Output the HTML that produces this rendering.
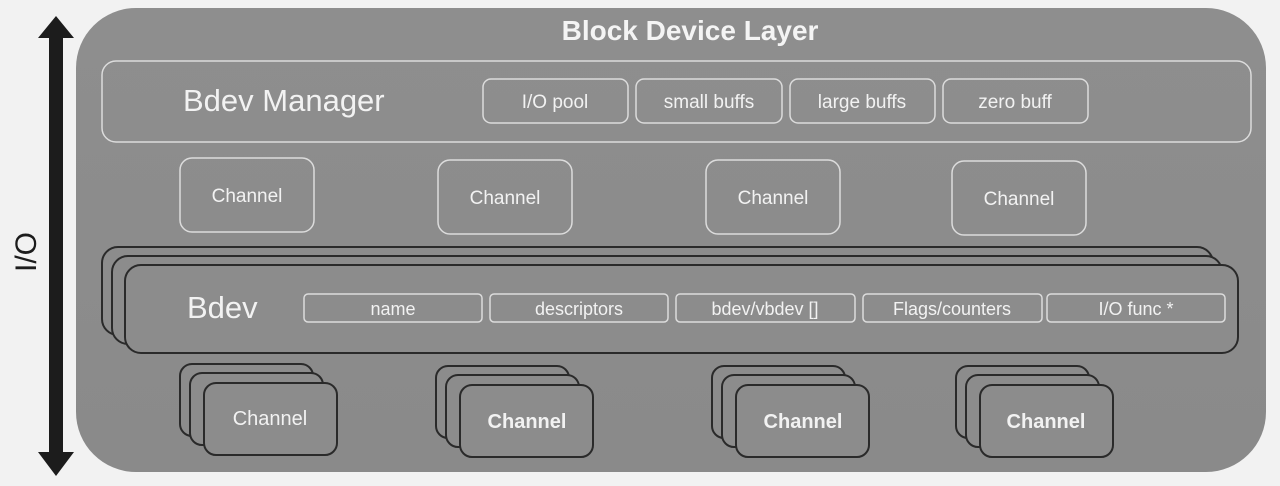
<!DOCTYPE html>
<html><head><style>
body{margin:0;width:1280px;height:481px;background:#f2f2f2;overflow:hidden;font-family:"Liberation Sans",sans-serif;}
</style></head><body>
<svg width="1280" height="481" xmlns="http://www.w3.org/2000/svg" font-family="Liberation Sans, sans-serif">
<defs>
<linearGradient id="g" x1="0" y1="0" x2="0" y2="1"><stop offset="0" stop-color="#8e8e8e"/><stop offset="1" stop-color="#8a8a8a"/></linearGradient>
</defs>
<rect x="76" y="8" width="1190" height="464" rx="60" fill="url(#g)"/>
<!-- arrow -->
<rect x="49" y="34" width="14" height="418" fill="#1c1c1c"/>
<polygon points="56,16 38,38 74,38" fill="#1c1c1c"/>
<polygon points="56,476 38,452 74,452" fill="#1c1c1c"/>
<text transform="translate(36,252) rotate(-90)" font-size="30" fill="#1c1c1c" text-anchor="middle">I/O</text>
<text x="690" y="40" font-size="28" font-weight="bold" fill="#f4f4f4" text-anchor="middle">Block Device Layer</text>
<g fill="none" stroke="#dcdcdc" stroke-width="1.5">
<rect x="102" y="61" width="1149" height="81" rx="14"/>
<rect x="483" y="79" width="145" height="44" rx="8"/>
<rect x="636" y="79" width="146" height="44" rx="8"/>
<rect x="790" y="79" width="145" height="44" rx="8"/>
<rect x="943" y="79" width="145" height="44" rx="8"/>
<rect x="180" y="158" width="134" height="74" rx="12"/>
<rect x="438" y="160" width="134" height="74" rx="12"/>
<rect x="706" y="160" width="134" height="74" rx="12"/>
<rect x="952" y="161" width="134" height="74" rx="12"/>
</g>
<g fill="#f2f2f2" font-size="19" text-anchor="middle">
<text x="555" y="108">I/O pool</text><text x="709" y="108">small buffs</text>
<text x="862" y="108">large buffs</text><text x="1015" y="108">zero buff</text>
<text x="247" y="202">Channel</text><text x="505" y="204">Channel</text>
<text x="773" y="204">Channel</text><text x="1019" y="205">Channel</text>
</g>
<text x="183" y="111" font-size="31" fill="#f2f2f2">Bdev Manager</text>
<!-- bdev stack -->
<g fill="#8c8c8c" stroke="#2a2a2a" stroke-width="2">
<rect x="102" y="247" width="1111" height="88" rx="16"/>
<rect x="112" y="256" width="1110" height="88" rx="16"/>
<rect x="125" y="265" width="1113" height="88" rx="16"/>
</g>
<text x="187" y="318" font-size="31" fill="#f2f2f2">Bdev</text>
<g fill="none" stroke="#dcdcdc" stroke-width="1.5">
<rect x="304" y="294" width="178" height="28" rx="4"/>
<rect x="490" y="294" width="178" height="28" rx="4"/>
<rect x="676" y="294" width="179" height="28" rx="4"/>
<rect x="863" y="294" width="179" height="28" rx="4"/>
<rect x="1047" y="294" width="178" height="28" rx="4"/>
</g>
<g fill="#f2f2f2" font-size="18" text-anchor="middle">
<text x="393" y="315">name</text><text x="579" y="315">descriptors</text>
<text x="765" y="315">bdev/vbdev []</text><text x="952" y="315">Flags/counters</text>
<text x="1136" y="315">I/O func *</text>
</g>
<!-- bottom channel stacks -->
<g fill="#8c8c8c" stroke="#2a2a2a" stroke-width="2">
<rect x="180" y="364" width="133" height="72" rx="12"/><rect x="190" y="373" width="133" height="72" rx="12"/><rect x="204" y="383" width="133" height="72" rx="12"/>
<rect x="436" y="366" width="133" height="72" rx="12"/><rect x="446" y="375" width="133" height="72" rx="12"/><rect x="460" y="385" width="133" height="72" rx="12"/>
<rect x="712" y="366" width="133" height="72" rx="12"/><rect x="722" y="375" width="133" height="72" rx="12"/><rect x="736" y="385" width="133" height="72" rx="12"/>
<rect x="956" y="366" width="133" height="72" rx="12"/><rect x="966" y="375" width="133" height="72" rx="12"/><rect x="980" y="385" width="133" height="72" rx="12"/>
</g>
<g fill="#f2f2f2" font-size="20" text-anchor="middle">
<text x="270" y="425">Channel</text>
<text x="527" y="428" font-weight="bold">Channel</text>
<text x="803" y="428" font-weight="bold">Channel</text>
<text x="1046" y="428" font-weight="bold">Channel</text>
</g>
</svg>
</body></html>
